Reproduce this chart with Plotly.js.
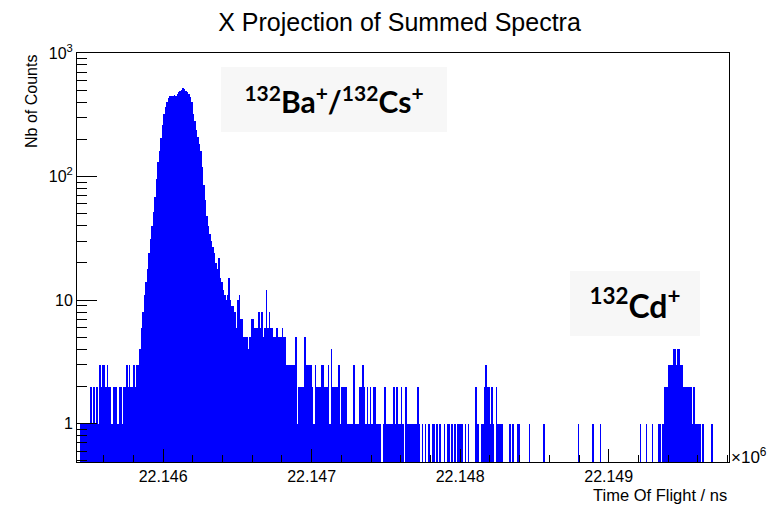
<!DOCTYPE html>
<html>
<head>
<meta charset="utf-8">
<script src="https://cdn.plot.ly/plotly-3.0.1.min.js"></script>
<style>html,body{margin:0;padding:0;background:#fff;}</style>
</head>
<body>
<div id="chart" style="width:772px;height:506px;"></div>
<script>
// ---- Histogram binning (time of flight, units of 10^6 ns) ----
const binStart = 22.14542;
const binWidth = 0.00001;

// ---- Counts per bin (0 = empty bin) ----
// left background, bins 0-40
const countsLeft = [0,0,1,1,1,1,1,1,1,2, 1,2,1,2,1,3,2,3,3,2, 3,2,2,1,2,2,2,1,2,2, 1,2,2,3,2,3,2,2,3,2, 3];
// main 132Ba+/132Cs+ peak, bins 41-96
const countsPeak = [3,4,6,8,11,14,18,24,31,40, 52,68,95,130,160,205,260,320,365,400,
  430,445,450,445,455,450,470,480,490,505, 525,510,495,480,465,440,400,320,280,240,
  210,185,160,120,85,65,48,40,34,30, 27,24,20,18,22,15];
// tail, bins 97-198
const countsTail = [14,12,11,10,11,15,10,9,9,8, 6,10,11,7,7,5,5,5,4,5,
  7,7,6,6,6,8,6,8,5,6, 12,6,8,6,6,5,5,6,5,5, 5,6,5,5,
  3,3,3,3,3,3,5,1,2,2, 2,2,5,3,3,3,3,2,1,3, 2,2,2,3,3,2,2,2,3,1,
  4,2,2,2,2,3,1,2,2,2, 2,1,1,1,1,3,1,1,1,2, 2,3,2,1,2,1,2,1];
// flat background, bins 199-298
const countsFlat = [2,2,1,1,1,1,0,1,2,1, 1,1,1,1,2,1,2,1,1,2, 1,0,2,1,1,1,1,1,1,1,
  2,1,0,1,0,1,0,1,1,0, 1,1,0,1,0,1,0,0,1,0, 1,1,0,1,0,1,0,1,1,1, 1,0,1,0,1,0,0,0,0,2,
  1,1,0,1,1,2,3,2,2,1, 2,1,0,2,1,1,1,1,0,0, 0,0,1,0,1,0,0,1,1];
// sparse region, bins 299-391
const countsSparse = [0,0,0,0,0,0,1,0,0,0, 0,0,0,0,0,0,1,0,0,0, 0,0,0,0,0,0,0,0,0,0,
  0,0,0,0,0,0,0,0,0,1, 0,0,0,0,0,0,0,0,0,1, 0,0,0,0,1,0,0,0,0,0,
  0,0,0,0,0,0,0,0,0,0, 0,0,0,0,0,0,0,0,0,0, 0,1,0,0,0,1,0,0,0,1, 0,0,0];
// 132Cd+ peak and right end, bins 392-438
const countsCd = [1,1,0,1,2,2,2,3,3,3, 4,4,3,4,4,3,3,2,2,2, 2,2,2,1,2,1,1,1,1,0,
  1,0,0,0,0,0,1,0,0,0, 0,0,0,0,0,0,0];

// ---- Axis tick labels ----
const yTickVals = [1, 10, 100, 1000];
const yTickText = ['1', '10', '10<sup>2</sup>', '10<sup>3</sup>'];

const counts = [].concat(countsLeft, countsPeak, countsTail, countsFlat, countsSparse, countsCd);
const xs = counts.map((c, i) => binStart + (i + 0.5) * binWidth);
const ys = counts.map(c => c > 0 ? c : null);

const yMinor = [];
[0.1, 1, 10, 100].forEach(d => { for (let k = 2; k <= 9; k++) yMinor.push(k * d); });

const trace = {
  type: 'bar', x: xs, y: ys, width: binWidth,
  marker: {color: '#0000ff', line: {width: 0}},
  hoverinfo: 'none'
};

const helv = 'Liberation Sans, Arial, Helvetica, sans-serif';
const layout = {
  width: 772, height: 506,
  margin: {l: 77, r: 43, t: 53, b: 44},
  paper_bgcolor: '#ffffff', plot_bgcolor: '#ffffff',
  font: {family: helv, color: '#000000'},
  showlegend: false,
  bargap: 0,
  title: {text: 'X Projection of Summed Spectra', font: {size: 25, family: helv, color: '#000'},
          x: 0.5175, xref: 'container', xanchor: 'center', y: 1 - 22/506, yref: 'container', yanchor: 'middle'},
  xaxis: {
    range: [22.14542, 22.14981], showline: true, linecolor: '#000', linewidth: 1, mirror: true,
    ticks: 'inside', ticklen: 13, tickwidth: 1, tickcolor: '#000',
    tick0: 22.146, dtick: 0.001, tickformat: '.3f', tickfont: {size: 16, family: helv},
    showgrid: false, zeroline: false,
    minor: {tick0: 22.146, dtick: 0.0002, ticks: 'inside', ticklen: 7, tickwidth: 1, tickcolor: '#000', showgrid: false}
  },
  yaxis: {
    type: 'log', range: [Math.log10(0.49), 3], showline: true, linecolor: '#000', linewidth: 1, mirror: true,
    ticks: 'inside', ticklen: 20, tickwidth: 1, tickcolor: '#000',
    tickmode: 'array', tickvals: yTickVals, ticktext: yTickText, tickfont: {size: 16, family: helv},
    showgrid: false, zeroline: false,
    minor: {tickmode: 'array', tickvals: yMinor, ticks: 'inside', ticklen: 10, tickwidth: 1, tickcolor: '#000', showgrid: false}
  },
  annotations: [
    {text: 'Nb of Counts', xref: 'paper', yref: 'paper', x: -0.0698, y: 1, xanchor: 'center', yanchor: 'top',
     textangle: -90, showarrow: false, font: {size: 16, family: helv}},
    {text: 'Time Of Flight / ns', xref: 'paper', yref: 'paper', x: 1, y: -0.0807, xanchor: 'right', yanchor: 'middle',
     showarrow: false, font: {size: 16.5, family: helv}},
    {text: '×10<sup>6</sup>', xref: 'paper', yref: 'paper', x: 1, y: 0, xanchor: 'left', yanchor: 'middle',
     xshift: 0, yshift: 6, showarrow: false, font: {size: 17, family: helv}},
    {text: '<b><sup>132</sup>Ba<sup>+</sup>/<sup>132</sup>Cs<sup>+</sup></b>', xref: 'paper', yref: 'paper',
     x: 0.394, y: 0.886, xanchor: 'center', yanchor: 'middle', width: 226, height: 65, borderpad: 0, borderwidth: 0,
     bgcolor: '#f7f7f7', showarrow: false, font: {size: 30, family: 'Lato, Open Sans, sans-serif', color: '#000'}},
    {text: '<b><sup>132</sup>Cd<sup>+</sup></b>', xref: 'paper', yref: 'paper',
     x: 0.8558, y: 0.3875, xanchor: 'center', yanchor: 'middle', width: 130, height: 65, borderpad: 0, borderwidth: 0,
     bgcolor: '#f7f7f7', showarrow: false, font: {size: 32, family: 'Lato, Open Sans, sans-serif', color: '#000'}}
  ]
};

Plotly.newPlot('chart', [trace], layout, {staticPlot: true, displayModeBar: false});
</script>
</body>
</html>
